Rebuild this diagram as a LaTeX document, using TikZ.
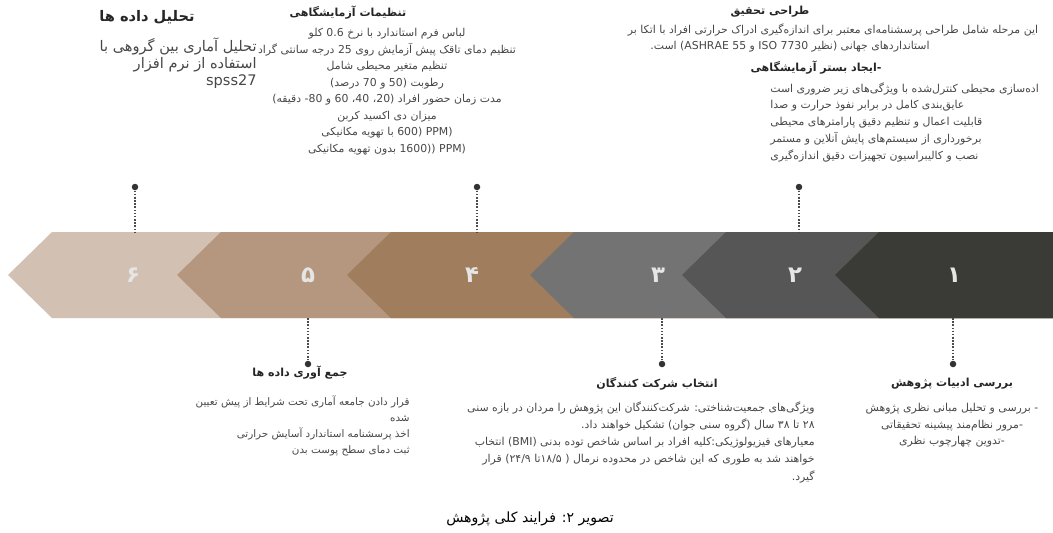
\documentclass[tikz,border=0pt]{standalone}
\usepackage{fontspec}
\newfontfamily\arabicfont[Script=Arabic]{DejaVu Sans}
\TeXXeTstate=1

\definecolor{stage6}{HTML}{D2C0B2}
\definecolor{stage5}{HTML}{B4977E}
\definecolor{stage4}{HTML}{A07D5C}
\definecolor{stage3}{HTML}{737373}
\definecolor{stage2}{HTML}{565656}
\definecolor{stage1}{HTML}{3A3A36}

\tikzset{
  stagehead/.style={font=\arabicfont\bfseries\fontsize{6.3}{8}\selectfont, text=black!85, inner sep=0pt},
  stagetext/.style={font=\arabicfont\fontsize{6.2}{9.4}\selectfont, text=black!72, inner sep=0pt},
  stagedot/.style={circle, fill=black!80, inner sep=0pt, minimum size=0.13cm},
  stagelink/.style={black!70, line width=0.9pt, dash pattern=on 0.9pt off 0.9pt},
}

\begin{document}
\begin{tikzpicture}[x=0.02cm, y=-0.02cm, >=stealth]
  \useasboundingbox (0,0) rectangle (1053,532);

  % draw chevrons
  \foreach \t/\c in {8/stage6, 177/stage5, 347/stage4, 530/stage3, 682/stage2, 835/stage1}
  \fill [\c] (\t,275) -- (\t+44,232) -- (1053,232) -- (1053,318) -- (\t+44,318) -- cycle;

  % draw stage numbers
  \foreach \m/\x/\d in {6/133/۶, 5/308/۵, 4/472/۴, 3/658/۳, 2/795/۲, 1/954/۱}
  \node [font=\arabicfont\bfseries\fontsize{13}{13}\selectfont, text=white!90!black] (num-\m) at (\x,275) {\d};

  % draw dots and dotted links
  \foreach \m/\x in {6/135, 4/477, 2/799}
  {
    \node [stagedot] (dot-\m) at (\x,187) {};
    \coordinate (band-\m) at (\x,232);
    \draw [stagelink] (dot-\m) -- (band-\m);
  }
  \foreach \m/\x in {5/308, 3/662, 1/953}
  {
    \node [stagedot] (dot-\m) at (\x,364) {};
    \coordinate (band-\m) at (\x,318);
    \draw [stagelink] (band-\m) -- (dot-\m);
  }

  % stage 6
  \node [stagehead, font=\arabicfont\bfseries\fontsize{8.3}{10}\selectfont] (head-6) at (147,17) {\beginR تحلیل داده ها\endR};
  \node [stagetext, font=\arabicfont\fontsize{8.3}{9.9}\selectfont, align=right, anchor=north east] (text-6) at (257,37)
  {\beginR تحلیل آماری بین گروهی با\endR\\
   \beginR استفاده از نرم افزار\endR\\
   \beginR spss27\endR};

  % stage 4
  \node [stagehead] (head-4) at (348,13) {\beginR تنظیمات آزمایشگاهی\endR};
  \node [stagetext, align=center, anchor=north] (text-4) at (387,28)
  {\beginR لباس فرم استاندارد با نرخ 0.6 کلو\endR\\
   \beginR تنظیم دمای تاقک پیش آزمایش روی 25 درجه سانتی گراد\endR\\
   \beginR تنظیم متغیر محیطی شامل\endR\\
   \beginR رطوبت (50 و 70 درصد)\endR\\
   \beginR مدت زمان حضور افراد (20، 40، 60 و 80- دقیقه)\endR\\
   \beginR میزان دی اکسید کربن\endR\\
   \beginR \beginL(600 PPM)\endL{} با تهویه مکانیکی\endR\\
   \beginR \beginL((1600 PPM)\endL{} بدون تهویه مکانیکی\endR};

  % stage 2
  \node [stagehead] (head-2) at (770,12) {\beginR طراحی تحقیق\endR};
  \node [stagetext] (text-2) at (833,30)
  {\beginR این مرحله شامل طراحی پرسشنامه‌ای معتبر برای اندازه‌گیری ادراک حرارتی افراد با اتکا بر\endR};
  \node [stagetext] (norm-2) at (790,47)
  {\beginR استانداردهای جهانی (نظیر \beginL ISO 7730\endL{} و \beginL ASHRAE 55\endL) است.\endR};
  \node [stagehead] (sub-2) at (816,68) {\beginR -ایجاد بستر آزمایشگاهی\endR};
  \node [stagetext, font=\arabicfont\fontsize{6.2}{9.6}\selectfont, align=left, anchor=north west] (list-2) at (770,82)
  {\beginR اده‌سازی محیطی کنترل‌شده با ویژگی‌های زیر ضروری است\endR\\
   \beginR عایق‌بندی کامل در برابر نفوذ حرارت و صدا\endR\\
   \beginR قابلیت اعمال و تنظیم دقیق پارامترهای محیطی\endR\\
   \beginR برخورداری از سیستم‌های پایش آنلاین و مستمر\endR\\
   \beginR نصب و کالیبراسیون تجهیزات دقیق اندازه‌گیری\endR};

  % stage 5
  \node [stagehead] (head-5) at (300,373) {\beginR جمع آوری داده ها\endR};
  \node [stagetext, font=\arabicfont\fontsize{5.9}{9.1}\selectfont, align=right, anchor=north east] (text-5) at (410,395)
  {\beginR قرار دادن جامعه آماری تحت شرایط از پیش تعیین\endR\\
   \beginR شده\endR\\
   \beginR اخذ پرسشنامه استاندارد آسایش حرارتی\endR\\
   \beginR ثبت دمای سطح پوست بدن\endR};

  % stage 3
  \node [stagehead] (head-3) at (657,384) {\beginR انتخاب شرکت کنندگان\endR};
  \node [stagetext, font=\arabicfont\fontsize{6.2}{9.8}\selectfont, align=right, anchor=north east] (text-3) at (815,401)
  {\beginR ویژگی‌های جمعیت‌شناختی: شرکت‌کنندگان این پژوهش را مردان در بازه سنی\endR\\
   \beginR ۲۸ تا ۳۸ سال (گروه سنی جوان) تشکیل خواهند داد.\endR\\
   \beginR معیارهای فیزیولوژیکی:کلیه افراد بر اساس شاخص توده بدنی \beginL(BMI)\endL{} انتخاب\endR\\
   \beginR خواهند شد به طوری که این شاخص در محدوده نرمال ( \beginL۱۸/۵\endL{}تا \beginL۲۴/۹\endL) قرار\endR\\
   \beginR گیرد.\endR};

  % stage 1
  \node [stagehead] (head-1) at (952,384) {\beginR بررسی ادبیات پژوهش\endR};
  \node [stagetext, align=center, anchor=north] (text-1) at (952,403)
  {\beginR - بررسی و تحلیل مبانی نظری پژوهش\endR\\
   \beginR -مرور نظام‌مند پیشینه تحقیقاتی\endR\\
   \beginR -تدوین چهارچوب نظری\endR};

  % caption
  \node [font=\arabicfont\fontsize{8}{9}\selectfont, inner sep=0pt] (caption) at (530,519) {\beginR تصویر ۲: فرایند کلی پژوهش\endR};
\end{tikzpicture}
\end{document}
